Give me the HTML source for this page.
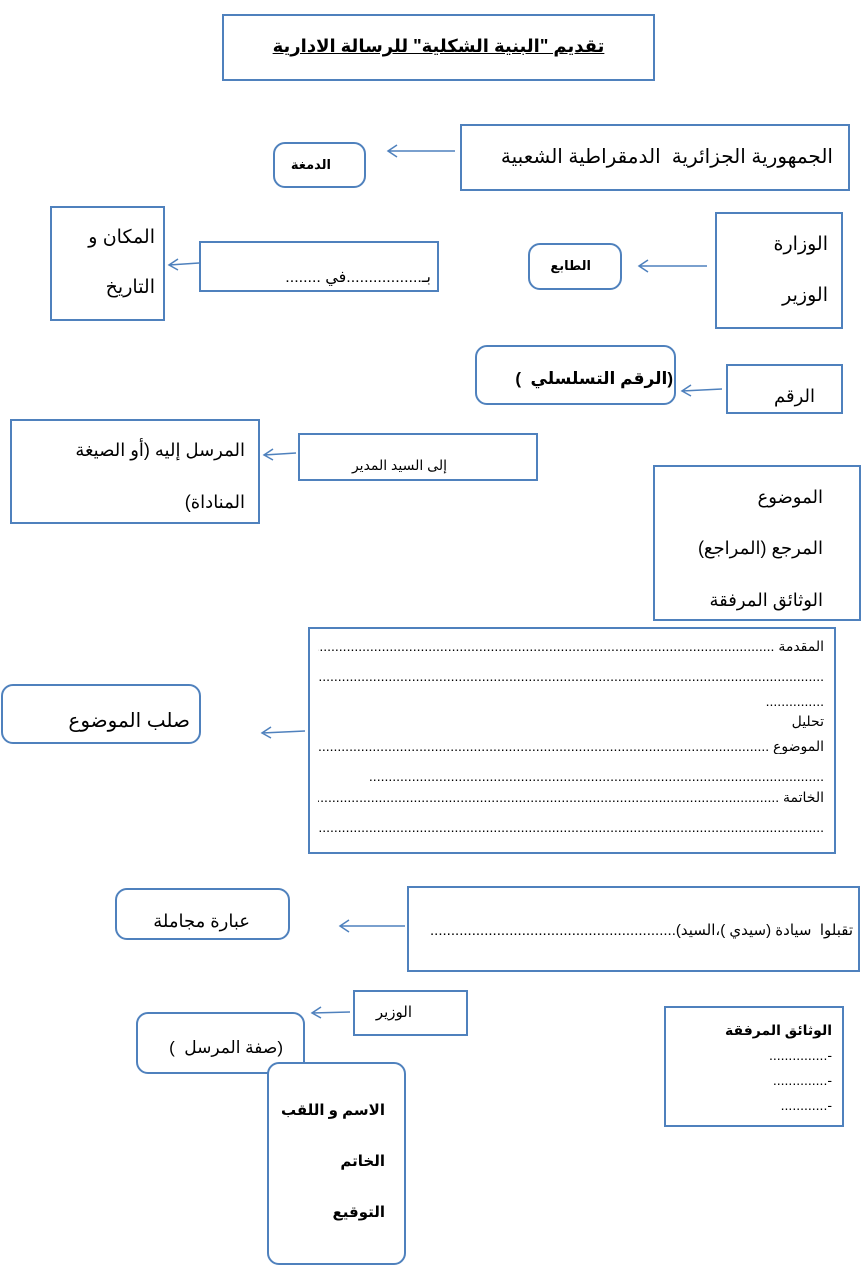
<!DOCTYPE html>
<html><head><meta charset="utf-8"><style>
body{margin:0;width:865px;height:1268px;background:#fff;position:relative;overflow:hidden;font-family:"Liberation Sans","DejaVu Sans",sans-serif;color:#000}
.b{position:absolute;border:2px solid #4f81bd;box-sizing:border-box;background:#fff}
.r{border-radius:12px}
.t{position:absolute;direction:rtl;white-space:nowrap;line-height:1}
.d{position:absolute;direction:rtl;white-space:nowrap;overflow:hidden;font-size:14px;line-height:16px;text-align:right}
svg{position:absolute;left:0;top:0}
</style></head><body>
<div class="b" style="left:222px;top:14px;width:433px;height:67px"></div>
<div class="t" style="left:222px;width:433px;top:37px;text-align:center;font-weight:bold;font-size:18px;text-decoration:underline">تقديم "البنية الشكلية" للرسالة الادارية</div>

<div class="b" style="left:460px;top:124px;width:390px;height:67px"></div>
<div class="t" style="right:32px;top:147px;font-size:20px">الجمهورية الجزائرية&nbsp; الدمقراطية الشعبية</div>
<div class="b r" style="left:273px;top:142px;width:93px;height:46px"></div>
<div class="t" style="right:534px;top:158px;font-weight:bold;font-size:13px">الدمغة</div>

<div class="b" style="left:50px;top:206px;width:115px;height:115px"></div>
<div class="t" style="right:710px;top:228px;font-size:19px">المكان و</div>
<div class="t" style="right:710px;top:278px;font-size:19px">التاريخ</div>
<div class="b" style="left:199px;top:241px;width:240px;height:51px"></div>
<div class="t" style="right:434px;top:270px;font-size:16px">بـ.................في ........</div>

<div class="b r" style="left:528px;top:243px;width:94px;height:47px"></div>
<div class="t" style="right:274px;top:259px;font-weight:bold;font-size:13px">الطابع</div>
<div class="b" style="left:715px;top:212px;width:128px;height:117px"></div>
<div class="t" style="right:37px;top:235px;font-size:19px">الوزارة</div>
<div class="t" style="right:37px;top:286px;font-size:19px">الوزير</div>

<div class="b r" style="left:475px;top:345px;width:201px;height:60px"></div>
<div class="t" style="right:192px;top:370px;font-weight:bold;font-size:17px">(الرقم التسلسلي&nbsp; )</div>
<div class="b" style="left:726px;top:364px;width:117px;height:50px"></div>
<div class="t" style="right:50px;top:387px;font-size:18px">الرقم</div>

<div class="b" style="left:10px;top:419px;width:250px;height:105px"></div>
<div class="t" style="right:620px;top:441px;font-size:18px">المرسل إليه (أو الصيغة</div>
<div class="t" style="right:620px;top:493px;font-size:18px">المناداة)</div>
<div class="b" style="left:298px;top:433px;width:240px;height:48px"></div>
<div class="t" style="right:418px;top:458px;font-size:14px">إلى السيد المدير</div>

<div class="b" style="left:653px;top:465px;width:208px;height:156px"></div>
<div class="t" style="right:42px;top:488px;font-size:18px">الموضوع</div>
<div class="t" style="right:42px;top:539px;font-size:18px">المرجع (المراجع)</div>
<div class="t" style="right:42px;top:591px;font-size:18px">الوثائق المرفقة</div>

<div class="b" style="left:308px;top:627px;width:528px;height:227px"></div>
<div class="d" style="left:318px;width:506px;top:638px">المقدمة ............................................................................................................................................</div>
<div class="d" style="left:318px;width:506px;top:668px">.................................................................................................................................................................</div>
<div class="d" style="left:318px;width:506px;top:693px">...............</div>
<div class="d" style="left:318px;width:506px;top:713px">تحليل</div>
<div class="d" style="left:318px;width:506px;top:738px">الموضوع ............................................................................................................................................</div>
<div class="d" style="left:370px;width:454px;top:768px">..................................................................................................................................</div>
<div class="d" style="left:318px;width:506px;top:789px">الخاتمة ............................................................................................................................................</div>
<div class="d" style="left:318px;width:506px;top:819px">.................................................................................................................................................................</div>

<div class="b r" style="left:1px;top:684px;width:200px;height:60px"></div>
<div class="t" style="right:675px;top:711px;font-size:20px">صلب الموضوع</div>

<div class="b" style="left:407px;top:886px;width:453px;height:86px"></div>
<div class="t" style="right:12px;top:923px;font-size:15px">تقبلوا&nbsp; سيادة (سيدي )،السيد)...........................................................</div>
<div class="b r" style="left:115px;top:888px;width:175px;height:52px"></div>
<div class="t" style="right:615px;top:912px;font-size:18px">عبارة مجاملة</div>

<div class="b r" style="left:136px;top:1012px;width:169px;height:62px"></div>
<div class="t" style="right:582px;top:1039px;font-size:17px">(صفة المرسل&nbsp; )</div>
<div class="b" style="left:353px;top:990px;width:115px;height:46px"></div>
<div class="t" style="right:453px;top:1005px;font-size:15px">الوزير</div>

<div class="b" style="left:664px;top:1006px;width:180px;height:121px"></div>
<div style="position:absolute;right:33px;top:1018px;direction:rtl;font-size:14px;line-height:25px;white-space:nowrap">
<b>الوثائق المرفقة</b><br>-...............<br>-..............<br>-............</div>

<div class="b r" style="left:267px;top:1062px;width:139px;height:203px"></div>
<div class="t" style="right:480px;top:1103px;font-weight:bold;font-size:15px">الاسم و اللقب</div>
<div class="t" style="right:480px;top:1154px;font-weight:bold;font-size:15px">الخاتم</div>
<div class="t" style="right:480px;top:1205px;font-weight:bold;font-size:15px">التوقيع</div>

<svg width="865" height="1268" fill="none" stroke="#4f81bd" stroke-width="1.5">
<path d="M455 151H388M397 145L388 151L397 157"/>
<path d="M199 263L169 265M178 259L169 265L178 270"/>
<path d="M707 266H639M648 260L639 266L648 272"/>
<path d="M722 389L682 391M691 385L682 391L691 396"/>
<path d="M296 453L264 455M273 449L264 455L273 460"/>
<path d="M305 731L262 733M271 727L262 733L271 738"/>
<path d="M405 926H340M349 920L340 926L349 932"/>
<path d="M350 1012L312 1013M321 1007L312 1013L321 1018"/>
</svg>
</body></html>
